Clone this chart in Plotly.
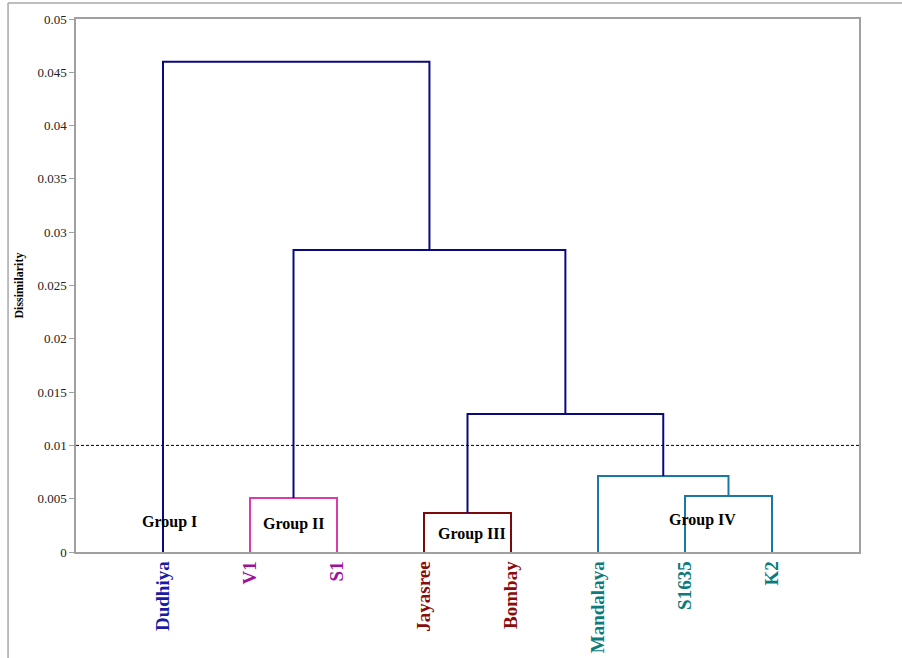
import plotly.graph_objects as go

# ---- data ----
leaves = ["Dudhiya", "V1", "S1", "Jayasree", "Bombay", "Mandalaya", "S1635", "K2"]
leaf_colors = ["#1a1aa6", "#a0109c", "#a0109c", "#8b0a0a", "#8b0a0a", "#0b7b7b", "#0b7b7b", "#0b7b7b"]
# merges: (left node, right node, height, color); nodes 0..7 leaves, 8.. merges
merge_left = [1, 3, 6, 5, 9, 8, 0]
merge_right = [2, 4, 7, 10, 11, 12, 13]
merge_height = [0.00507, 0.00366, 0.00525, 0.00713, 0.01295, 0.02833, 0.0460]
merge_color = ["#dd3aad", "#7d0a0a", "#1a78a6", "#1a78a6", "#0a0a80", "#0a0a80", "#0a0a80"]
group_labels = ["Group I", "Group II", "Group III", "Group IV"]
group_x = [1.08, 2.5, 4.55, 7.2]
group_y = [0.0028, 0.0026, 0.0017, 0.0030]
threshold = 0.01
y_ticks = [0, 0.005, 0.01, 0.015, 0.02, 0.025, 0.03, 0.035, 0.04, 0.045, 0.05]
y_tick_text = ["0", "0.005", "0.01", "0.015", "0.02", "0.025", "0.03", "0.035", "0.04", "0.045", "0.05"]

SERIF = "Liberation Serif, Times New Roman, serif"

fig = go.Figure()

# node positions
pos_x = [i + 1 for i in range(len(leaves))]
pos_y = [0.0] * len(leaves)
for l, r, h, c in zip(merge_left, merge_right, merge_height, merge_color):
    xl, yl = pos_x[l], pos_y[l]
    xr, yr = pos_x[r], pos_y[r]
    fig.add_trace(go.Scatter(
        x=[xl, xl, xr, xr], y=[yl, h, h, yr], mode="lines",
        line=dict(color=c, width=2), hoverinfo="skip", showlegend=False))
    pos_x.append((xl + xr) / 2)
    pos_y.append(h)

# threshold line
fig.add_trace(go.Scatter(x=[0, 9], y=[threshold, threshold], mode="lines",
                         line=dict(color="black", width=1, dash="3px,2px"),
                         hoverinfo="skip", showlegend=False))

for t, gx, gy in zip(group_labels, group_x, group_y):
    fig.add_annotation(x=gx, y=gy, text="<b>%s</b>" % t, showarrow=False,
                       font=dict(family=SERIF, size=16, color="black"))

fig.add_annotation(x=-0.074, y=0.5, xref="paper", yref="paper", text="<b>Dissimilarity</b>",
                   xanchor="center", yanchor="middle",
                   textangle=-90, showarrow=False, font=dict(family=SERIF, size=12, color="black"))

# outer frame lines
fig.add_shape(type="line", xref="paper", yref="paper", x0=-0.0868, x1=1.06, y0=1.030, y1=1.030,
              line=dict(color="#a8a8a8", width=1.5))
fig.add_shape(type="line", xref="paper", yref="paper", x0=-0.0868, x1=-0.0868, y0=1.030, y1=-0.21,
              line=dict(color="#a8a8a8", width=1.5))

fig.update_layout(
    width=902, height=658,
    margin=dict(l=76, r=43, t=19, b=106),
    paper_bgcolor="white", plot_bgcolor="white",
    showlegend=False,
)
fig.update_xaxes(
    range=[0, 9], tickvals=[i + 1 for i in range(len(leaves))],
    ticktext=["<span style='color:%s'><b>%s</b></span>" % (c, n) for n, c in zip(leaves, leaf_colors)],
    tickangle=-90, tickfont=dict(family=SERIF, size=19),
    showgrid=False, zeroline=False, showline=True, mirror=True, automargin=False,
    linecolor="#a0a0a0", linewidth=1.5, ticks="", ticklabelstandoff=0,
)
fig.update_yaxes(
    range=[0, 0.05], tickvals=y_ticks, ticktext=y_tick_text,
    tickfont=dict(family=SERIF, size=13, color="#222"), automargin=False,
    showgrid=False, zeroline=False, showline=True, mirror=True,
    linecolor="#a0a0a0", linewidth=1.5, ticks="outside", ticklen=5, tickcolor="#a0a0a0",
)

fig.write_html("out.html")
